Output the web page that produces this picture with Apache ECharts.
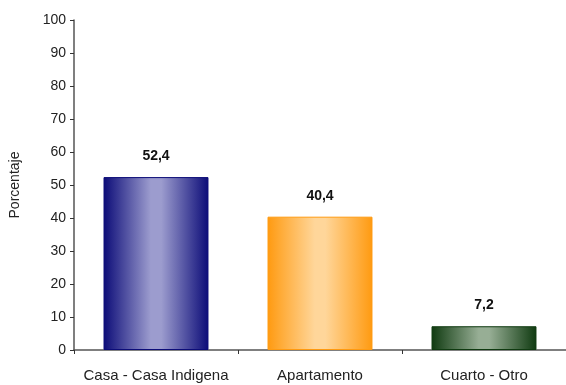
<!DOCTYPE html>
<html>
<head>
<meta charset="utf-8">
<script src="https://cdn.jsdelivr.net/npm/echarts@6/dist/echarts.min.js"></script>
<style>
  html, body { margin: 0; padding: 0; background: #fff; }
  #chart { width: 566px; height: 385px; }
</style>
</head>
<body>
<div id="chart"></div>
<script>
// Tipo de vivienda (porcentaje)
var categories = ['Casa - Casa Indigena', 'Apartamento', 'Cuarto - Otro'];
var values = [52.4, 40.4, 7.2];
var yTicks = [0, 10, 20, 30, 40, 50, 60, 70, 80, 90, 100];

// Cylinder-like shading per bar: [edge, center]
var shades = [
  ['#0c0c78', '#9c9cce'],
  ['#ff9a10', '#ffd69a'],
  ['#0f3a10', '#97ae95']
];

function cylinder(edge, center) {
  return new echarts.graphic.LinearGradient(0, 0, 1, 0, [
    { offset: 0, color: edge },
    { offset: 0.45, color: center },
    { offset: 0.55, color: center },
    { offset: 1, color: edge }
  ]);
}

var font = 'Liberation Sans, Arial';
var chart = echarts.init(document.getElementById('chart'), null, { renderer: 'canvas' });

chart.setOption({
  animation: false,
  backgroundColor: '#ffffff',
  grid: { left: 73, right: 0, top: 20, bottom: 35 },
  xAxis: {
    type: 'category',
    data: categories,
    axisLine: { lineStyle: { color: '#555', width: 1.5 } },
    axisTick: { show: true, interval: 0, alignWithLabel: false, length: 4, inside: false, lineStyle: { color: '#333' } },
    axisLabel: { interval: 0, color: '#222', fontFamily: font, fontSize: 15, margin: 18 }
  },
  yAxis: {
    type: 'value',
    min: 0, max: 100, interval: 10,
    name: 'Porcentaje',
    nameLocation: 'middle',
    nameGap: 52,
    nameRotate: 90,
    nameTextStyle: { color: '#222', fontFamily: font, fontSize: 14 },
    axisLine: { show: true, lineStyle: { color: '#555', width: 1.5 } },
    axisTick: { show: true, length: 4, lineStyle: { color: '#333' } },
    splitLine: { show: false },
    axisLabel: {
      color: '#222', fontFamily: font, fontSize: 14, margin: 8,
      formatter: function (v) { return yTicks.indexOf(v) >= 0 ? String(v) : ''; }
    }
  },
  series: [{
    type: 'bar',
    barWidth: '64%',
    data: values.map(function (v, i) {
      return {
        value: v,
        itemStyle: {
          color: cylinder(shades[i][0], shades[i][1]),
          borderColor: shades[i][0],
          borderWidth: 1
        }
      };
    }),
    label: {
      show: true,
      position: 'top',
      distance: 14,
      color: '#111',
      fontFamily: font,
      fontWeight: 'bold',
      fontSize: 14,
      formatter: function (p) { return String(p.value).replace('.', ','); }
    }
  }]
});
</script>
</body>
</html>
